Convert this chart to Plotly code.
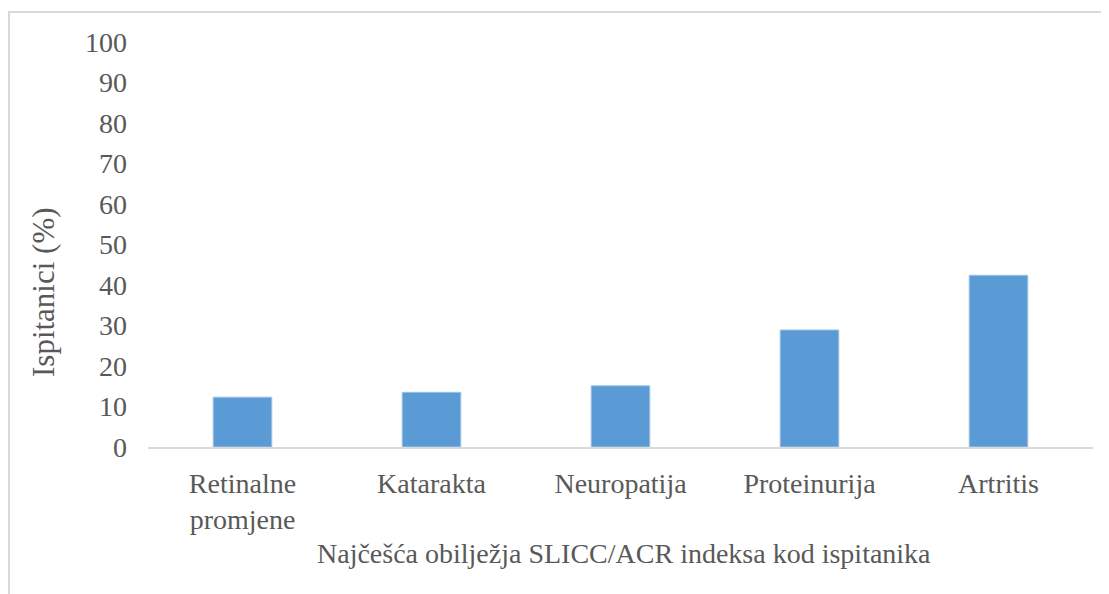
import plotly.graph_objects as go

categories = ["Retinalne<br>promjene", "Katarakta", "Neuropatija", "Proteinurija", "Artritis"]
values = [12.3, 13.5, 15.1, 28.9, 42.4]
y_ticks = [0, 10, 20, 30, 40, 50, 60, 70, 80, 90, 100]

FONT = "Liberation Serif"
GREY = "#595959"

fig = go.Figure(go.Bar(
    x=categories, y=values,
    marker=dict(color="#5b9bd5", line=dict(color="#9dc3e6", width=1)),
))

fig.update_layout(
    width=1109, height=594,
    margin=dict(l=140, r=24, t=34, b=155),
    paper_bgcolor="white", plot_bgcolor="white",
    bargap=0.69,
    showlegend=False,
    font=dict(family=FONT, size=28, color=GREY),
    xaxis=dict(
        showline=True, linecolor="#d9d9d9", linewidth=2,
        ticks="", showgrid=False, ticklabelstandoff=10,
        tickfont=dict(family=FONT, size=28, color=GREY),
    ),
    yaxis=dict(
        range=[0, 100], tickvals=y_ticks,
        showgrid=False, showline=False, zeroline=False,
        ticks="", ticklabelstandoff=20,
        tickfont=dict(family=FONT, size=28, color=GREY),
    ),
    shapes=[dict(type="rect", xref="paper", yref="paper",
                 x0=-139/945, x1=1.2, y0=-1, y1=1 + 30/405,
                 line=dict(color="#d9d9d9", width=2), fillcolor="rgba(0,0,0,0)",
                 layer="below")],
    annotations=[
        dict(text="Ispitanici (%)", xref="paper", yref="paper",
             x=-105/945, y=(447 - 292) / 405, textangle=-90,
             showarrow=False, font=dict(family=FONT, size=31, color=GREY),
             xanchor="center", yanchor="middle"),
        dict(text="Najčešća obilježja SLICC/ACR indeksa kod ispitanika",
             xref="paper", yref="paper",
             x=(624 - 148) / 945, y=-(553 - 447) / 405,
             showarrow=False, font=dict(family=FONT, size=28, color=GREY),
             xanchor="center", yanchor="middle"),
    ],
)

fig.write_html("out.html")
